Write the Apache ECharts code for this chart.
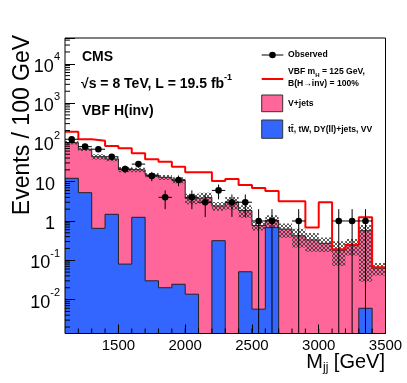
<!DOCTYPE html>
<html>
<head>
<meta charset="utf-8">
<script src="https://cdn.jsdelivr.net/npm/echarts@6/dist/echarts.min.js"></script>
<style>
  html, body { margin: 0; padding: 0; background: #fff; }
  #chart { width: 407px; height: 383px; }
</style>
</head>
<body>
<div id="chart"></div>
<script>
// M_jj bins, 100 GeV wide (lower edges)
const binLow = [1100, 1200, 1300, 1400, 1500, 1600, 1700, 1800, 1900, 2000, 2100, 2200,
  2300, 2400, 2500, 2600, 2700, 2800, 2900, 3000, 3100, 3200, 3300, 3400];
const binWidth = 100;

const observed = [120, 78, 67, 43, 21, 28, 14, 4, 11, 4, 3, 6, 3, 3, 1, 1, 0, 1, 0, 0, 1, 1, 1, 0];
const vJets = [85.8, 61.5, 42.6, 36.3, 20.5, 18.7, 14.8, 12.9, 11.0, 3.77, 4.0, 2.1,
  3.0, 1.8, 0.76, 0.36, 0.62, 0.42, 0.33, 0.27, 0.18, 0.24, 0.56, 0.063];
const otherBkg = [12.2, 5.25, 0.65, 1.48, 0.08, 1.24, 0.03, 0.02, 0.0245, 0.0137, 0, 0.315,
  0, 0.051, 0.0057, 0.68, 0, 0, 0, 0, 0, 0, 0.006, 0];
// red line: VBF signal stacked on the background
const sigPlusBkg = [187, 120, 110, 81, 71, 53, 37, 32, 24, 17.3, 17.3, 10.4,
  11.7, 8.2, 6.9, 5.8, 3.2, 3.2, 0.68, 3.0, 0.19, 0.25, 1.24, 0.066];
// relative background uncertainty (hatched band)
const uncUp = [0.10, 0.10, 0.15, 0.12, 0.15, 0.13, 0.12, 0.15, 0.17, 0.30, 0.30, 0.25,
  0.35, 0.35, 0.25, 0.35, 0.40, 0.50, 0.50, 0.40, 0.70, 0.45, 0.40, 0.35];
const uncDown = [0.10, 0.10, 0.15, 0.12, 0.15, 0.13, 0.12, 0.15, 0.17, 0.30, 0.30, 0.25,
  0.35, 0.35, 0.25, 0.35, 0.40, 0.50, 0.50, 0.40, 0.60, 0.45, 0.95, 0.35];
const xTickLabels = [1500, 2000, 2500, 3000, 3500];

const yMin = 0.00137, yMax = 45300;
const xMin = 1100, xMax = 3500;
const font = '"Liberation Sans", Arial, Helvetica, sans-serif';
const pink = '#ff6699', blue = '#3366ff';

const totalBkg = vJets.map((v, i) => v + otherBkg[i]);

const stepData = (vals) => {
  const d = binLow.map((x, i) => [x, Math.max(vals[i], yMin)]);
  d.push([binLow[binLow.length - 1] + binWidth, Math.max(vals[vals.length - 1], yMin)]);
  return d;
};

// cross hatch pattern for the uncertainty band
const hatch = document.createElement('canvas');
hatch.width = 4; hatch.height = 4;
const hg = hatch.getContext('2d');
hg.strokeStyle = '#333';
hg.lineWidth = 0.8;
hg.beginPath();
hg.moveTo(0, 0); hg.lineTo(4, 4);
hg.moveTo(4, 0); hg.lineTo(0, 4);
hg.stroke();

const yMinor = [];
for (let e = -3; e <= 4; e++) {
  for (let k = 2; k <= 9; k++) {
    const v = k * Math.pow(10, e);
    if (v > yMin && v < yMax) yMinor.push([v]);
  }
}
const xMinor = [];
for (let x = xMin + 100; x < xMax; x += 100) xMinor.push([x]);

const chart = echarts.init(document.getElementById('chart'), null, { renderer: 'canvas' });

const option = {
  animation: false,
  backgroundColor: '#fff',
  grid: { left: 65, right: 21.5, top: 38, bottom: 49.5, containLabel: false, outerBoundsMode: 'none' },
  xAxis: {
    type: 'value', min: xMin, max: xMax, z: 20,
    axisLine: { show: false },
    splitLine: { show: false },
    axisTick: { show: true, inside: true, length: 9, customValues: xTickLabels, lineStyle: { color: '#000' } },
    axisLabel: {
      customValues: xTickLabels, fontSize: 15, color: '#000', margin: 5, fontFamily: font,
      formatter: (v) => String(v)
    }
  },
  yAxis: {
    type: 'log', logBase: 10, min: yMin, max: yMax, splitNumber: 8, z: 20,
    axisLine: { show: false },
    splitLine: { show: false },
    axisTick: { show: true, inside: true, length: 10, lineStyle: { color: '#000' } },
    axisLabel: {
      margin: 5, color: '#000', fontFamily: font,
      formatter: (v) => {
        const l = Math.log10(v), e = Math.round(l);
        if (Math.abs(l - e) > 1e-6) return '';
        if (e === 0) return '{b|1}{p|}';
        if (e === 1) return '{b|10}{p|}';
        return '{b|10}{s|' + e + '}';
      },
      rich: {
        b: { fontSize: 18, lineHeight: 24, verticalAlign: 'bottom', fontFamily: font, color: '#000' },
        s: { fontSize: 11, lineHeight: 12, verticalAlign: 'top', fontFamily: font, color: '#000' },
        p: { width: 5 }
      }
    }
  },
  series: [
    {
      name: 'V+jets', type: 'line', step: 'end', showSymbol: false, z: 2,
      data: stepData(totalBkg),
      lineStyle: { color: '#222', width: 1 },
      areaStyle: { color: pink, opacity: 1, origin: yMin }
    },
    {
      name: 'other', type: 'line', step: 'end', showSymbol: false, z: 3,
      data: stepData(otherBkg),
      lineStyle: { color: '#222', width: 1 },
      areaStyle: { color: blue, opacity: 1, origin: yMin }
    },
    {
      name: 'unc', type: 'custom', z: 4, clip: true,
      data: totalBkg.map((t, i) => [binLow[i], binLow[i] + binWidth, Math.max(t * (1 - uncDown[i]), yMin), t * (1 + uncUp[i])]),
      renderItem: (params, api) => {
        const p0 = api.coord([api.value(0), api.value(3)]);
        const p1 = api.coord([api.value(1), api.value(2)]);
        return {
          type: 'rect',
          shape: { x: p0[0], y: p0[1], width: p1[0] - p0[0], height: p1[1] - p0[1] },
          style: { fill: { image: hatch, repeat: 'repeat' }, stroke: null }
        };
      }
    },
    {
      name: 'signal', type: 'line', step: 'end', showSymbol: false, z: 5,
      data: stepData(sigPlusBkg),
      lineStyle: { color: '#ff0000', width: 2 }
    },
    {
      name: 'Observed', type: 'custom', z: 6, clip: true,
      data: observed.map((n, i) => [binLow[i] + binWidth / 2, n]).filter(d => d[1] > 0),
      renderItem: (params, api) => {
        const xc = api.value(0), n = api.value(1);
        const err = Math.sqrt(n);
        const c = api.coord([xc, n]);
        const lo = api.coord([xc, Math.max(n - err, yMin)]);
        const hi = api.coord([xc, n + err]);
        const l = api.coord([xc - binWidth / 2, n]);
        const r = api.coord([xc + binWidth / 2, n]);
        const st = { stroke: '#000', lineWidth: 1 };
        return {
          type: 'group', children: [
            { type: 'line', shape: { x1: lo[0], y1: lo[1], x2: hi[0], y2: hi[1] }, style: st },
            { type: 'line', shape: { x1: l[0], y1: l[1], x2: r[0], y2: r[1] }, style: st },
            { type: 'circle', shape: { cx: c[0], cy: c[1], r: 3.3 }, style: { fill: '#000' } }
          ]
        };
      }
    },
    {
      name: 'yMinorTicks', type: 'custom', z: 20, silent: true,
      data: yMinor,
      renderItem: (params, api) => {
        const p = api.coord([xMin, api.value(0)]);
        return { type: 'line', shape: { x1: p[0], y1: p[1], x2: p[0] + 5, y2: p[1] }, style: { stroke: '#000', lineWidth: 1 } };
      },
      encode: { x: -1, y: 0 }
    },
    {
      name: 'xMinorTicks', type: 'custom', z: 20, silent: true,
      data: xMinor,
      renderItem: (params, api) => {
        const p = api.coord([api.value(0), yMin]);
        return { type: 'line', shape: { x1: p[0], y1: p[1], x2: p[0], y2: p[1] - 5 }, style: { stroke: '#000', lineWidth: 1 } };
      },
      encode: { x: 0, y: -1 }
    }
  ],
  graphic: [
    // frame
    { type: 'rect', z: 100, shape: { x: 65, y: 38, width: 320.5, height: 295.5 }, style: { fill: null, stroke: '#000', lineWidth: 1 } },
    // CMS labels
    { type: 'text', z: 100, x: 82, y: 57, style: { text: 'CMS', font: 'bold 14px ' + font, fill: '#000', verticalAlign: 'middle' } },
    {
      type: 'text', z: 100, x: 81, y: 82,
      style: {
        text: '{t|√s = 8 TeV, L = 19.5 fb}{s|-1}', verticalAlign: 'middle',
        rich: {
          t: { fontSize: 14, fontWeight: 'bold', fontFamily: font, lineHeight: 18, verticalAlign: 'bottom', fill: '#000' },
          s: { fontSize: 9, fontWeight: 'bold', fontFamily: font, lineHeight: 9, verticalAlign: 'top', fill: '#000' }
        }
      }
    },
    { type: 'text', z: 100, x: 82, y: 111, style: { text: 'VBF H(inv)', font: 'bold 14px ' + font, fill: '#000', verticalAlign: 'middle' } },
    // legend
    { type: 'line', z: 100, shape: { x1: 261.7, y1: 55, x2: 283.3, y2: 55 }, style: { stroke: '#000', lineWidth: 1 } },
    { type: 'circle', z: 100, shape: { cx: 272.5, cy: 55, r: 3.3 }, style: { fill: '#000' } },
    { type: 'text', z: 100, x: 288, y: 55, style: { text: 'Observed', font: 'bold 8.6px ' + font, fill: '#000', verticalAlign: 'middle' } },
    { type: 'line', z: 100, shape: { x1: 261.7, y1: 79, x2: 283.3, y2: 79 }, style: { stroke: '#ff0000', lineWidth: 2 } },
    {
      type: 'text', z: 100, x: 288, y: 73,
      style: {
        text: '{a|VBF m}{b|H}{a| = 125 GeV,}', verticalAlign: 'middle',
        rich: {
          a: { fontSize: 8.6, fontWeight: 'bold', fontFamily: font, lineHeight: 11, verticalAlign: 'top', fill: '#000' },
          b: { fontSize: 6, fontWeight: 'bold', fontFamily: font, lineHeight: 7, verticalAlign: 'bottom', fill: '#000' }
        }
      }
    },
    { type: 'text', z: 100, x: 288, y: 84, style: { text: 'B(H\u2192inv) = 100%', font: 'bold 8.6px ' + font, fill: '#000', verticalAlign: 'middle' } },
    { type: 'rect', z: 100, shape: { x: 261.7, y: 95, width: 21, height: 16.7 }, style: { fill: pink, stroke: '#333', lineWidth: 1 } },
    { type: 'text', z: 100, x: 288, y: 103.3, style: { text: 'V+jets', font: 'bold 8.6px ' + font, fill: '#000', verticalAlign: 'middle' } },
    { type: 'rect', z: 100, shape: { x: 261.7, y: 120, width: 21, height: 18.3 }, style: { fill: blue, stroke: '#333', lineWidth: 1 } },
    { type: 'text', z: 100, x: 288, y: 129.3, style: { text: 'tt\u0304, tW, DY(ll)+jets, VV', font: 'bold 8.6px ' + font, fill: '#000', verticalAlign: 'middle' } },
    // axis titles
    { type: 'text', z: 100, x: 23, y: 125, rotation: Math.PI / 2, style: { text: 'Events / 100 GeV', font: '23px ' + font, fill: '#000', align: 'center', verticalAlign: 'middle' } },
    {
      type: 'text', z: 100, x: 385, y: 362,
      style: {
        text: '{m|M}{s|jj}{m| [GeV]}', align: 'right', verticalAlign: 'middle',
        rich: {
          m: { fontSize: 20, fontFamily: font, lineHeight: 24, verticalAlign: 'middle', fill: '#000' },
          s: { fontSize: 12, fontFamily: font, lineHeight: 12, verticalAlign: 'bottom', fill: '#000' }
        }
      }
    }
  ]
};

chart.setOption(option);
window.addEventListener('resize', chart.resize);
</script>
</body>
</html>
